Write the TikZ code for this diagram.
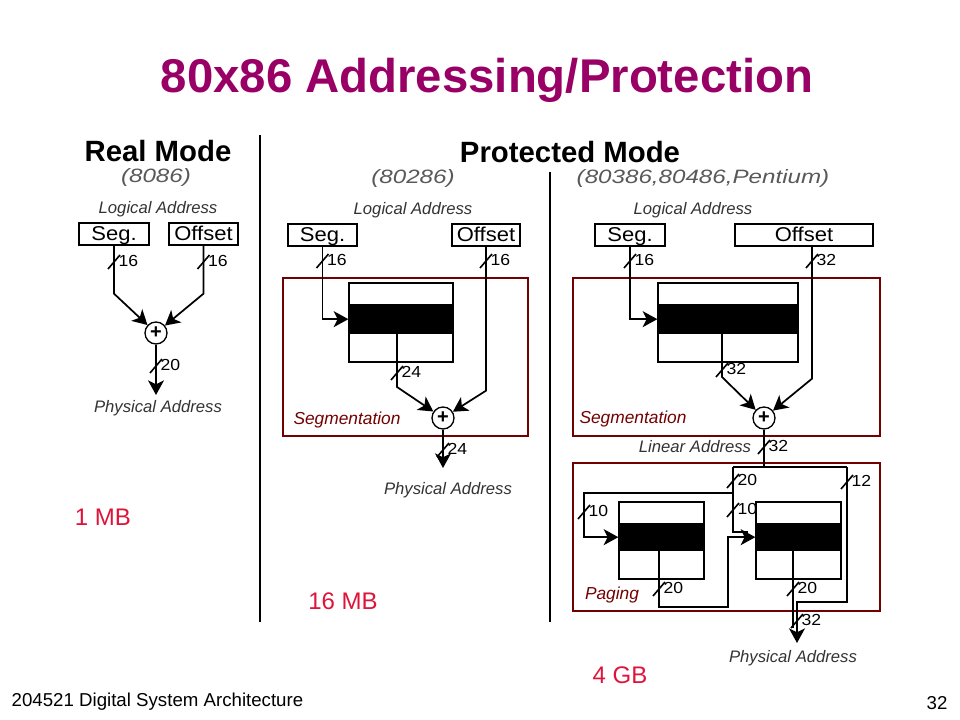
\documentclass[tikz,border=0pt]{standalone}
\usepackage{fontspec}
\setmainfont{Liberation Sans}
\newfontfamily\widefont{Liberation Sans}[FakeStretch=1.1]
\newfontfamily\bitfont{Liberation Sans}[FakeStretch=1.25]
\usepackage{tikz}
\usetikzlibrary{arrows.meta}

\definecolor{titlepurple}{RGB}{153,0,102}
\definecolor{memred}{RGB}{222,20,58}
\definecolor{areared}{RGB}{115,0,0}

\newcommand{\bus}[3]{%
  \draw[slash] ([shift={(-6,7)}]#1) -- ([shift={(6,-7)}]#1);
  \node[num, anchor=west] (#2) at ([shift={(3,-1)}]#1) {#3};}

\begin{document}
\begin{tikzpicture}[x=0.75pt, y=-0.75pt,
    >={Stealth[length=11pt,width=12pt,inset=3pt]},
    wire/.style={line width=1.3pt},
    slash/.style={line width=1.2pt},
    divider/.style={line width=2.2pt},
    reg/.style={draw, line width=1pt, minimum height=16.5pt, inner sep=0pt, text height=10.5pt, text depth=0pt, font=\widefont\fontsize{15}{15}\selectfont},
    tbl/.style={draw, line width=1pt, path picture={\fill ([yshift=-16pt]path picture bounding box.north west) rectangle ([yshift=21pt]path picture bounding box.south east);}},
    adder/.style={circle, draw, line width=1pt, fill=white, minimum size=16.5pt, inner sep=0pt, font=\bfseries\fontsize{15}{15}\selectfont},
    areabox/.style={draw=areared, line width=0.9pt},
    head/.style={font=\bfseries\fontsize{22}{22}\selectfont},
    chip/.style={text=black!65, font=\bitfont\itshape\fontsize{14.5}{14.5}\selectfont},
    lbl/.style={text=black!80, font=\itshape\fontsize{12.5}{12.5}\selectfont},
    area/.style={text=areared, font=\itshape\fontsize{13}{13}\selectfont},
    num/.style={inner sep=1pt, font=\widefont\fontsize{12}{12}\selectfont},
    mem/.style={text=memred, font=\fontsize{18}{18}\selectfont},
    foot/.style={font=\fontsize{14}{14}\selectfont}]
  \useasboundingbox (0,0) rectangle (960,720);

  \node[text=titlepurple, font=\bfseries\fontsize{35.5}{35.5}\selectfont, anchor=base] (title) at (487,93) {80x86 Addressing/Protection};

  \draw[divider] (260,135) -- (260,622);
  \draw[divider] (550,172) -- (550,622);

  % real mode
  \node[head] (real) at (158,151) {Real Mode};
  \node[chip] (cpu1) at (156,177) {(8086)};
  \node[lbl] (log1) at (158,209) {Logical Address};
  \node[reg, minimum width=52.5pt] (seg1) at (114,234) {Seg.};
  \node[reg, minimum width=51.75pt] (off1) at (203.5,234) {Offset};
  \node[adder] (add1) at (156,333) {+};
  \coordinate (phys1) at (156,395);
  \node[lbl] (pa1) at (158,408) {Physical Address};
  \draw[wire,->] (seg1.south) -- ++(0,48) -- (add1);
  \draw[wire,->] (off1.south) -- ++(0,48) -- (add1);
  \draw[wire,->] (add1) -- (phys1);
  \bus{114,262}{w1}{16}
  \bus{203.5,262}{w2}{16}
  \bus{156,366}{w3}{20}

  % protected mode, 80286
  \node[head] (prot) at (570,152) {Protected Mode};
  \node[chip] (cpu2) at (413,178) {(80286)};
  \node[lbl] (log2) at (413,210) {Logical Address};
  \node[reg, minimum width=51.75pt] (seg2) at (322.5,235) {Seg.};
  \node[reg, minimum width=51pt] (off2) at (486,235) {Offset};
  \draw[areabox] (283,278) rectangle (528,436);
  \node[tbl, minimum width=78pt, minimum height=59.25pt] (tab2) at (401,322.5) {};
  \node[adder] (add2) at (443,418) {+};
  \coordinate (d2) at (397,333);
  \coordinate (phys2) at (443,468);
  \node[area] (segm2) at (347,420) {Segmentation};
  \node[lbl] (pa2) at (448,490) {Physical Address};
  \draw[wire,->] (seg2.south) |- ([yshift=2.5pt]tab2.west);
  \draw[wire,->] (off2.south) -- ++(0,144) -- (add2);
  \draw[wire,->] (d2) -- (397,387) -- (add2);
  \draw[wire,->] (add2) -- (phys2);
  \bus{322.5,261}{w4}{16}
  \bus{486,261}{w5}{16}
  \bus{397,373}{w6}{24}
  \bus{443,450}{w7}{24}

  % protected mode, 80386 and up
  \node[chip] (cpu3) at (703,178) {(80386,80486,Pentium)};
  \node[lbl] (log3) at (693,210) {Logical Address};
  \node[reg, minimum width=52.5pt] (seg3) at (630,235) {Seg.};
  \node[reg, minimum width=103.5pt] (off3) at (804,235) {Offset};
  \draw[areabox] (573,278) rectangle (880,436);
  \node[tbl, minimum width=105pt, minimum height=59.25pt] (tab3) at (728,322.5) {};
  \node[adder] (add3) at (764,418) {+};
  \coordinate (d3) at (722,333);
  \node[area] (segm3) at (633,419) {Segmentation};
  \node[lbl] (lin3) at (695,447) {Linear Address};
  \draw[wire,->] (seg3.south) |- ([yshift=2.5pt]tab3.west);
  \draw[wire,->] ([xshift=6pt]off3.south) -- ++(0,132) -- (add3);
  \draw[wire,->] (d3) -- (722,377) -- (add3);
  \bus{630,261}{w8}{16}
  \bus{812,261}{w9}{32}
  \bus{722,370}{w10}{32}

  % paging
  \draw[areabox] (573,463) rectangle (880,611);
  \node[tbl, minimum width=63.75pt, minimum height=57.75pt] (tab4) at (661.5,540.5) {};
  \node[tbl, minimum width=63.75pt, minimum height=57.75pt] (tab5) at (798.5,540.5) {};
  \coordinate (lin) at (764,467);
  \coordinate (pl) at (733,467);
  \coordinate (pr) at (847,467);
  \coordinate (br) at (733,493);
  \coordinate (d4) at (659,551);
  \coordinate (d5) at (793,551);
  \coordinate (phys3) at (797,643);
  \node[area] (pag) at (612,595) {Paging};
  \node[lbl] (pa3) at (793,658) {Physical Address};
  \draw[wire] (add3) -- (lin);
  \draw[wire] (pl) -- (pr);
  \draw[wire] (pl) |- (748,532);
  \draw[wire,->] (br) -- (584,493) |- ([yshift=2.5pt]tab4.west);
  \draw[wire,->] (d4) |- (728,607) |- ([yshift=2.5pt]tab5.west);
  \draw[wire] (d5) -- (793,628);
  \draw[wire,->] (pr) |- (797,602) -- (phys3);
  \bus{764,447}{w11}{32}
  \bus{733,481}{w12}{20}
  \bus{733,510}{w13}{10}
  \bus{584,512}{w14}{10}
  \bus{847,482}{w15}{12}
  \bus{659,589}{w16}{20}
  \bus{793,589}{w17}{20}
  \bus{797,621}{w18}{32}

  \node[mem] (mb1) at (103,517) {1 MB};
  \node[mem] (mb16) at (343,601) {16 MB};
  \node[mem] (gb4) at (620,675) {4 GB};
  \node[foot, anchor=west] (course) at (7,702) {204521 Digital System Architecture};
  \node[foot] (page) at (937,703) {32};
\end{tikzpicture}
\end{document}
